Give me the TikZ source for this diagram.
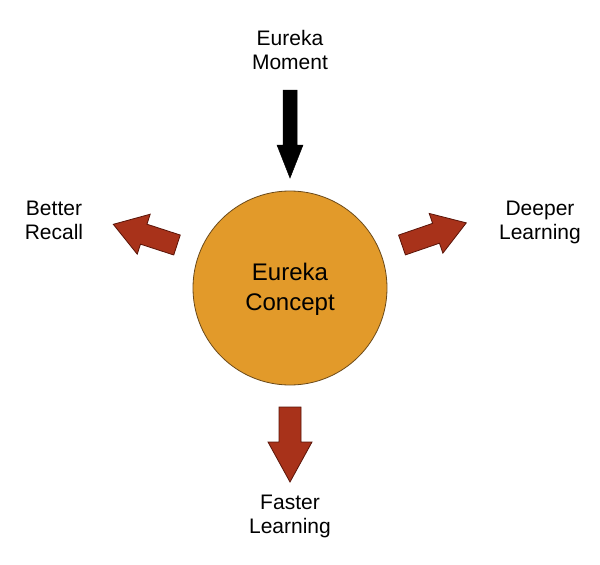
\documentclass[tikz,border=0pt]{standalone}
\usepackage{fontspec}
\setmainfont{Liberation Sans}
\definecolor{circfill}{HTML}{E29A2A}
\definecolor{circline}{HTML}{6B4A1A}
\definecolor{redfill}{HTML}{A8321A}
\definecolor{redline}{HTML}{5A1408}
\begin{document}
\begin{tikzpicture}[x=1pt,y=-1pt,
  label/.style={align=center,font=\fontsize{21}{24}\selectfont,inner sep=0pt},
  redarrow/.style={fill=redfill,draw=redline,line width=0.8pt,line join=miter},
  blackarrow/.style={fill=black,draw=black,line width=0.5pt},
  pics/blockarrow/.style n args={4}{code={
    \path[pic actions] (0,-#2) -- (#1-#4,-#2) -- (#1-#4,-#3) -- (#1,0)
      -- (#1-#4,#3) -- (#1-#4,#2) -- (0,#2) -- cycle;}}]
\useasboundingbox (0,0) rectangle (600,565);
\node[circle,minimum size=194pt,fill=circfill,draw=circline,line width=0.8pt,inner sep=0pt] (concept) at (290,288) {};
\node[label,font=\fontsize{24}{30}\selectfont] (concepttext) at (290,289) {Eureka\\Concept};
\node[label] (moment) at (290,50) {Eureka\\Moment};
\node[label] (recall) at (54,220) {Better\\Recall};
\node[label] (deeper) at (540,222) {Deeper\\Learning};
\node[label] (faster) at (290,516) {Faster\\Learning};
\pic[blackarrow,rotate=-90] (inarrow) at (290,90) {blockarrow={88}{7}{13}{33}};
\pic[redarrow,rotate=-90] (downarrow) at (290,407) {blockarrow={75}{11}{22}{40}};
\pic[redarrow,rotate=162] (leftarrow) at (177,245) {blockarrow={67}{10.5}{21}{32}};
\pic[redarrow,rotate=19] (rightarrow) at (402,245) {blockarrow={68}{10.5}{21}{32}};
\end{tikzpicture}
\end{document}
